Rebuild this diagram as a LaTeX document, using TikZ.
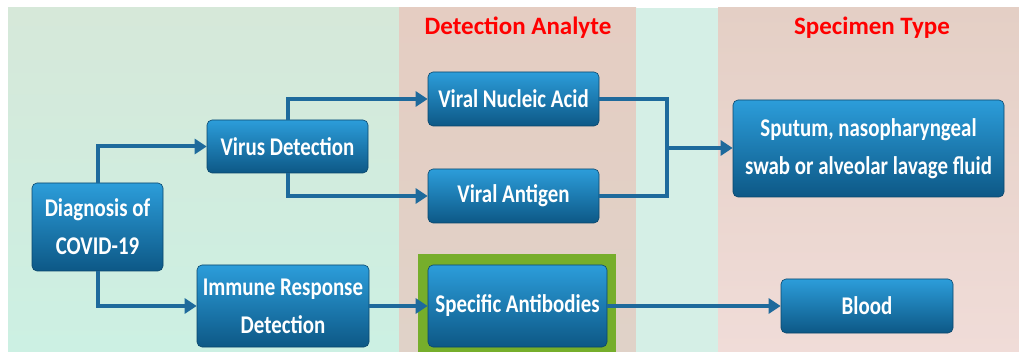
\documentclass[tikz,border=0pt]{standalone}
\usepackage{fontspec}
\setmainfont{Carlito}
\newfontfamily\boxfont[FakeStretch=0.82]{Carlito}
\usetikzlibrary{arrows.meta,shadings}
\definecolor{mintA}{HTML}{D6E8D9}
\definecolor{mintB}{HTML}{CCF0E3}
\definecolor{bandP}{HTML}{E5CDC2}
\definecolor{bandPb}{HTML}{E0D2C8}
\definecolor{bandC}{HTML}{D5EFE6}
\definecolor{specA}{HTML}{E4CFC5}
\definecolor{specB}{HTML}{F0DCD8}
\definecolor{boxTop}{HTML}{2C9DDA}
\definecolor{boxBot}{HTML}{0D5886}
\definecolor{connC}{HTML}{1E6A9C}
\definecolor{greenF}{HTML}{76AE2B}
\tikzset{
  x=1pt, y=-1pt,
  bluebox/.style={rounded corners=5pt, top color=boxTop, bottom color=boxBot,
    draw=boxBot!80!black, line width=0.6pt, text=white, align=center,
    font=\boxfont\fontsize{25.5}{38}\selectfont\bfseries, inner sep=0pt, anchor=center},
  conn/.style={draw=connC, line width=4pt},
  arr/.style={conn, -{Triangle[length=12pt,width=15pt]}},
  title/.style={text=red, font=\fontsize{25}{28}\selectfont\bfseries, anchor=center}
}
\begin{document}
\begin{tikzpicture}
\useasboundingbox (0,0) rectangle (1019,352);
% background
\fill[white] (0,0) rectangle (1019,352);
\shade[top color=mintA, bottom color=mintB] (8,8) rectangle (399,352);
\shade[top color=bandP, bottom color=bandPb] (399,8) rectangle (636,352);
\fill[bandC] (636,8) rectangle (718,352);
\shade[top color=specA, bottom color=specB] (718,8) rectangle (1019,352);
% titles
\node[title] (t1) at (518,28) {Detection Analyte};
\node[title] (t2) at (872,28) {Specimen Type};
% green highlight
\fill[greenF] (418,254) rectangle (616,356);
% boxes
\node[bluebox, minimum width=131pt, minimum height=88pt] (diag) at (97.5,227) {Diagnosis of\\COVID-19};
\node[bluebox, minimum width=161pt, minimum height=53pt] (virus) at (287.5,146.5) {Virus Detection};
\node[bluebox, minimum width=172pt, minimum height=82pt] (immune) at (283,306) {Immune Response\\Detection};
\node[bluebox, minimum width=171pt, minimum height=54pt] (vna) at (513.5,99) {Viral Nucleic Acid};
\node[bluebox, minimum width=171pt, minimum height=54pt] (va) at (513.5,196) {Viral Antigen};
\node[bluebox, minimum width=179pt, minimum height=82pt] (spab) at (517.5,306) {Specific Antibodies};
\node[bluebox, minimum width=271pt, minimum height=97pt] (sput) at (868.5,148.5) {Sputum, nasopharyngeal\\swab or alveolar lavage fluid};
\node[bluebox, minimum width=172pt, minimum height=54pt] (blood) at (867,306) {Blood};
% connectors
\coordinate (j) at (667,148);
\draw[arr] (diag.north) |- (virus.west);
\draw[arr] (diag.south) |- (immune.west);
\draw[arr] (virus.north) |- (vna.west);
\draw[arr] (virus.south) |- (va.west);
\draw[conn] (vna.east) -| (j);
\draw[conn] (va.east) -| (j);
\draw[arr] (j) -- (j -| sput.west);
\draw[arr] (immune.east) -- (spab.west);
\draw[arr] (spab.east) -- (blood.west);
\end{tikzpicture}
\end{document}
